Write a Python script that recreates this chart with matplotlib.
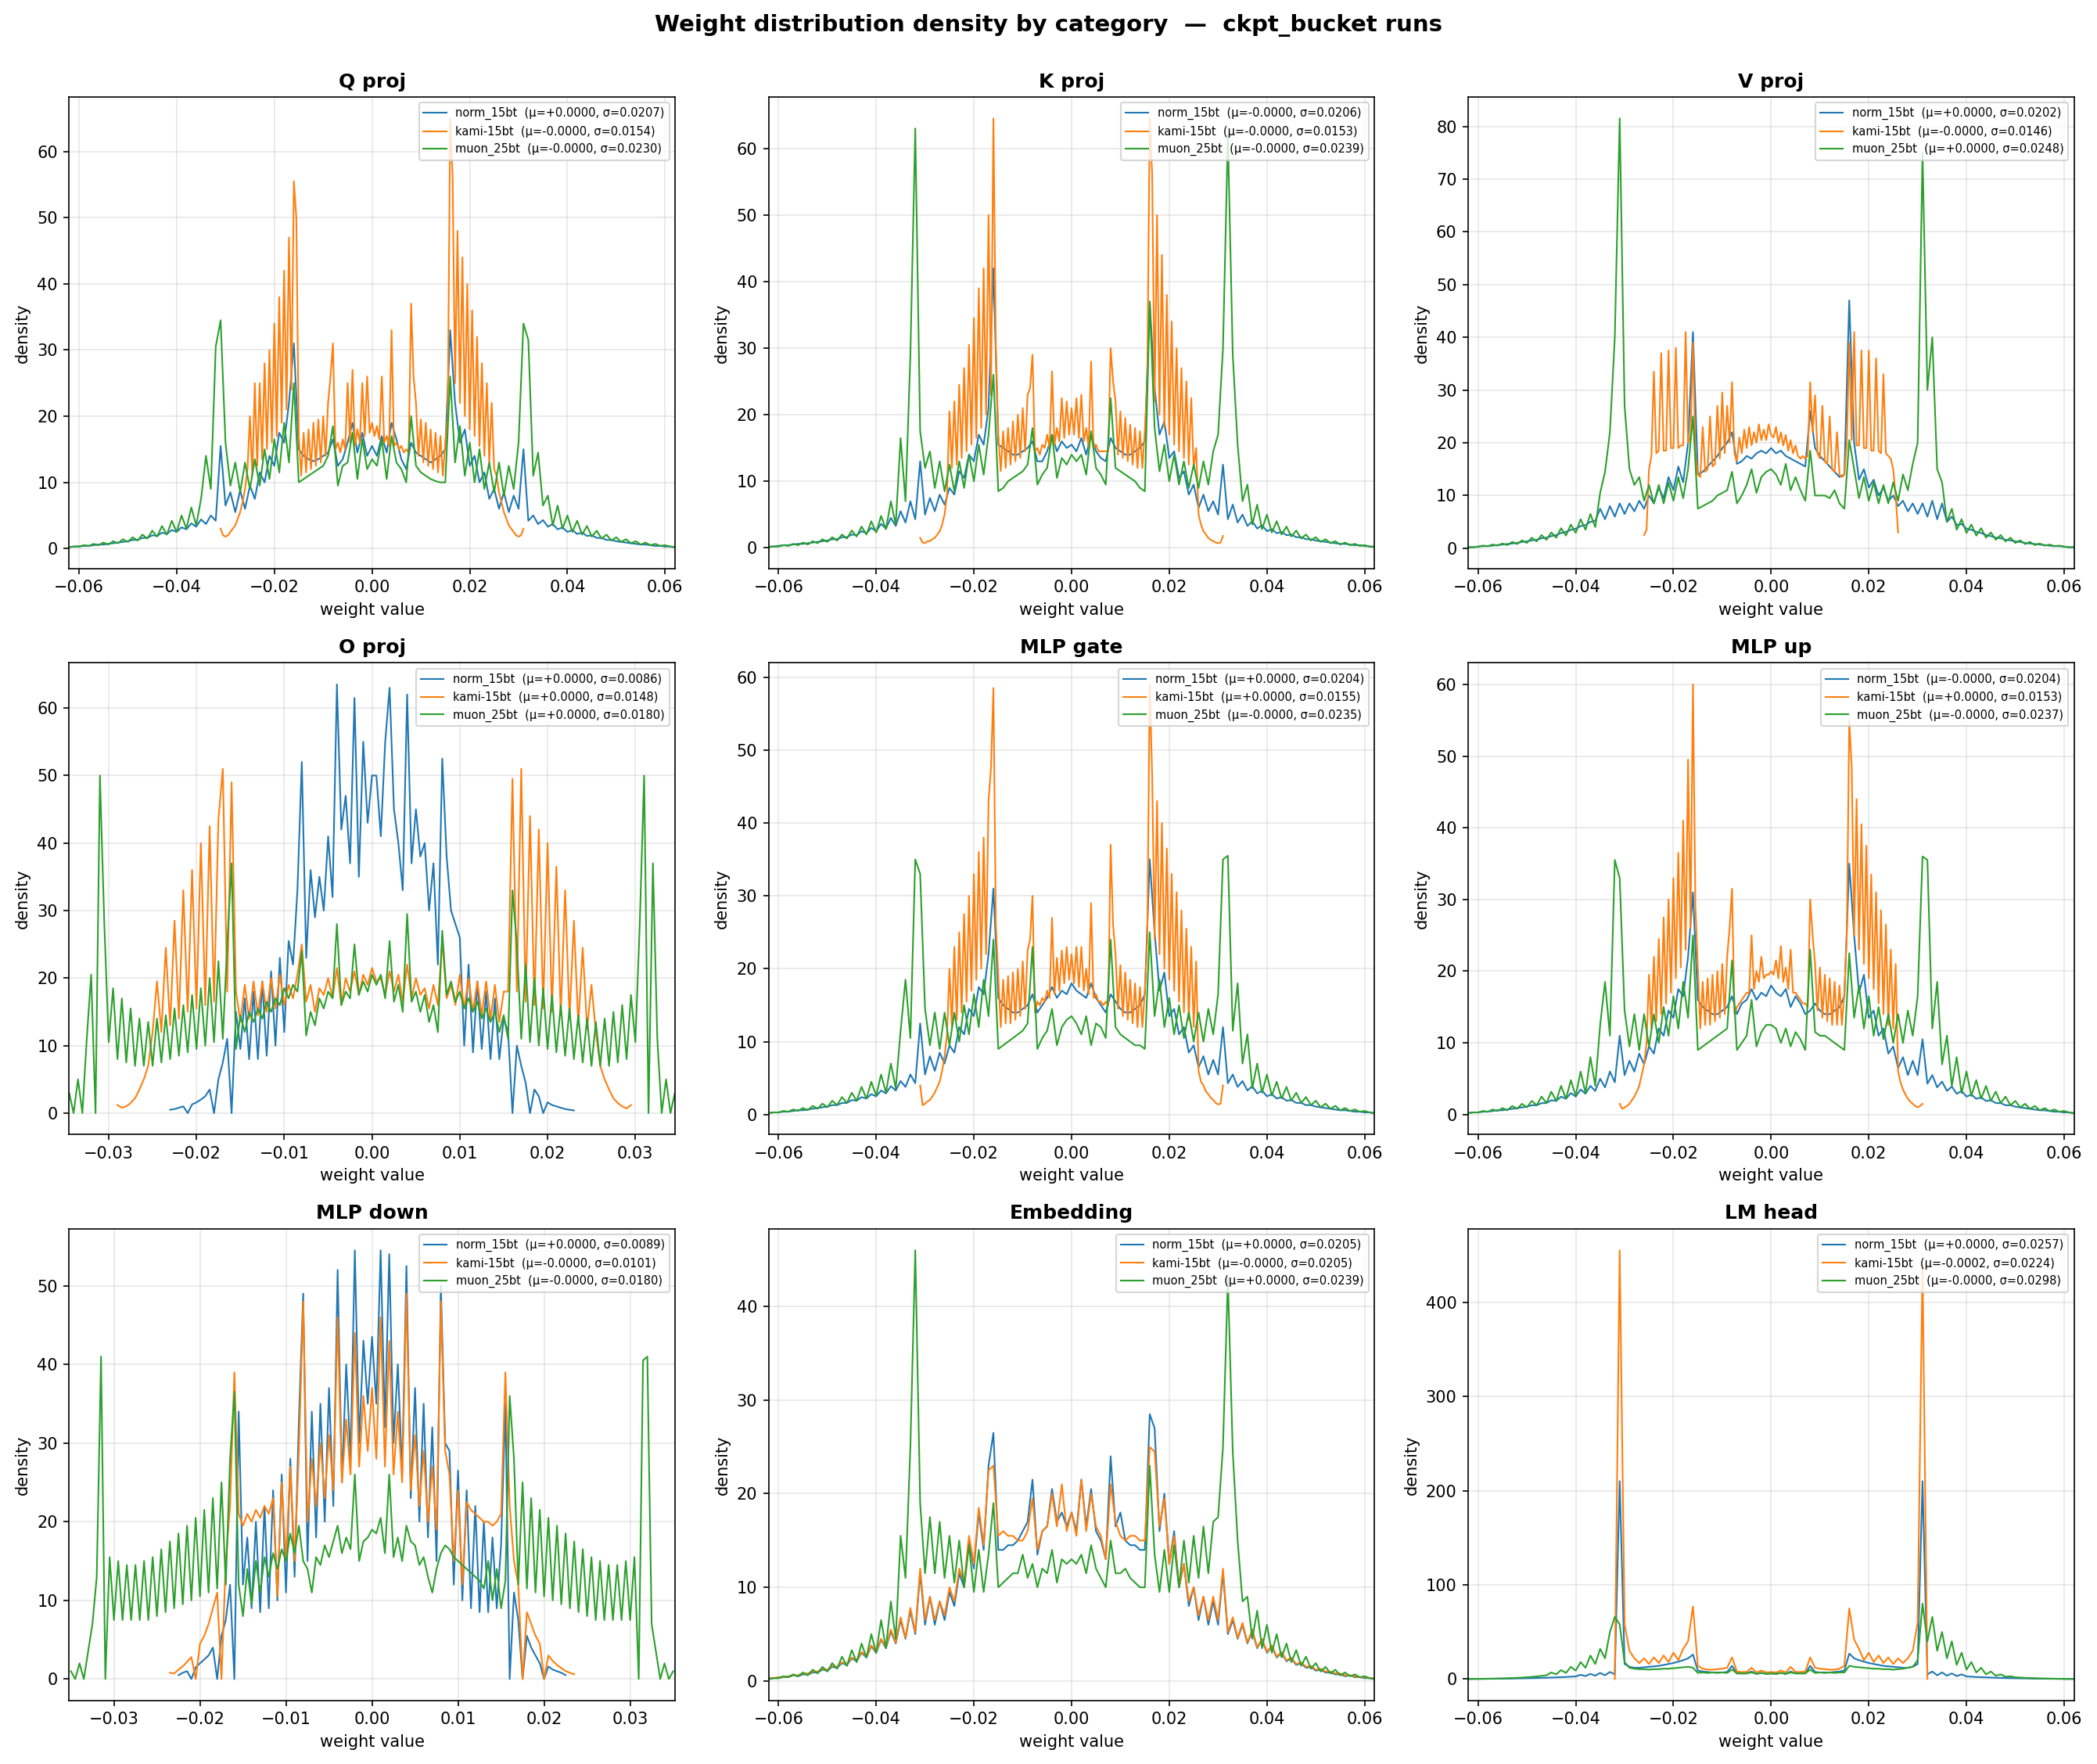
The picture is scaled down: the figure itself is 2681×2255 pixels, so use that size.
import numpy as np
import matplotlib
matplotlib.use("Agg")
import matplotlib.pyplot as plt

# runs compared in every panel
runs = ["norm_15bt", "kami-15bt", "muon_25bt"]
colors = ["tab:blue", "tab:orange", "tab:green"]

titles = ["Q proj", "K proj", "V proj", "O proj", "MLP gate", "MLP up",
          "MLP down", "Embedding", "LM head"]

# legend stats (mu, sigma) per panel, one pair per run
mus = [["+0.0000", "-0.0000", "-0.0000"], ["-0.0000", "-0.0000", "-0.0000"],
       ["+0.0000", "-0.0000", "+0.0000"], ["+0.0000", "+0.0000", "+0.0000"],
       ["+0.0000", "+0.0000", "-0.0000"], ["-0.0000", "+0.0000", "-0.0000"],
       ["+0.0000", "-0.0000", "-0.0000"], ["+0.0000", "-0.0000", "+0.0000"],
       ["+0.0000", "-0.0002", "-0.0000"]]
sigmas = [["0.0207", "0.0154", "0.0230"], ["0.0206", "0.0153", "0.0239"],
          ["0.0202", "0.0146", "0.0248"], ["0.0086", "0.0148", "0.0180"],
          ["0.0204", "0.0155", "0.0235"], ["0.0204", "0.0153", "0.0237"],
          ["0.0089", "0.0101", "0.0180"], ["0.0205", "0.0205", "0.0239"],
          ["0.0257", "0.0224", "0.0298"]]

# bin width of each curve (norm, kami, muon) and x range shown
steps = [[0.001, 0.0005, 0.001], [0.001, 0.0005, 0.001], [0.001, 0.0005, 0.001],
         [0.0005, 0.0005, 0.0005], [0.001, 0.0005, 0.001], [0.001, 0.0005, 0.001],
         [0.0005, 0.0005, 0.0005], [0.001, 0.001, 0.001], [0.001, 0.001, 0.001]]
xlims = [0.062, 0.062, 0.062, 0.0345, 0.062, 0.062, 0.0352, 0.062, 0.062]

# density values: "_l" runs from the outer edge in to 0,
# "_r" from the first bin right of 0 outwards
q_norm_l = [0.2, 0.3, 0.3, 0.4, 0.4, 0.5, 0.6, 0.6, 0.7, 0.8, 0.9, 1.0, 1.1, 1.3, 1.3, 1.6, 1.6, 2.0, 1.9, 2.4, 2.2,
            2.8, 2.5, 3.2, 2.9, 3.8, 3.3, 4.4, 3.7, 5.0, 4.2, 15.5, 6.5, 8.5, 5.5, 8.8, 6.0, 9.5, 7.5, 11.5, 10.0,
            14.0, 12.5, 17.5, 16.0, 22.0, 31.0, 15.0, 14.0, 13.5, 13.2, 13.5, 14.0, 14.5, 16.5, 12.5, 13.5, 16.0,
            19.0, 14.5, 17.5, 14.0, 15.5]
q_norm_r = [14.0, 17.0, 14.5, 19.0, 16.5, 13.5, 12.0, 16.0, 14.5, 14.0, 13.5, 13.0, 13.5, 14.0, 15.0, 33.0, 22.0,
            16.0, 18.0, 12.5, 14.0, 10.0, 11.5, 7.5, 9.0, 6.0, 8.5, 5.5, 8.0, 6.0, 15.0, 4.2, 5.0, 3.7, 4.3, 3.3, 3.7,
            2.9, 3.2, 2.5, 2.8, 2.2, 2.4, 1.9, 2.0, 1.6, 1.6, 1.3, 1.3, 1.1, 1.0, 0.9, 0.8, 0.7, 0.6, 0.6, 0.5, 0.4,
            0.4, 0.3, 0.3, 0.2]
q_kami_l = [3.0, 2.0, 1.8, 2.0, 2.5, 3.0, 3.5, 4.5, 5.5, 7.0, 9.0, 12.0, 20.0, 11.0, 25.0, 12.5, 25.0, 13.5, 28.0,
            15.0, 30.0, 16.0, 34.0, 17.0, 38.0, 19.0, 42.0, 21.0, 47.0, 24.0, 55.5, 50.0, 17.0, 11.0, 17.5, 11.5,
            18.0, 12.0, 19.0, 12.5, 19.5, 13.0, 20.0, 14.0, 22.0, 26.0, 31.0, 15.0, 16.0, 14.5, 16.5, 15.0, 25.0,
            16.0, 27.0, 15.5, 18.0, 16.0, 25.0, 17.0, 26.0, 17.5, 19.0]
q_kami_r = [17.0, 18.5, 16.5, 26.0, 16.0, 17.0, 15.5, 33.0, 15.5, 16.0, 15.0, 15.5, 14.5, 15.0, 14.5, 37.0, 26.0,
            22.0, 14.0, 19.5, 13.0, 19.0, 12.5, 18.0, 12.0, 17.5, 11.5, 17.0, 11.0, 16.0, 20.0, 65.0, 56.0, 25.0,
            48.0, 22.0, 44.0, 20.0, 40.0, 18.0, 36.0, 17.0, 32.0, 15.5, 28.0, 14.0, 25.0, 13.0, 22.0, 12.0, 11.0,
            8.5, 7.0, 5.5, 4.5, 3.5, 3.0, 2.5, 2.0, 1.8, 2.0, 3.0]
q_muon_l = [0.2, 0.3, 0.3, 0.5, 0.4, 0.7, 0.5, 0.9, 0.6, 1.1, 0.8, 1.4, 1.0, 1.7, 1.2, 2.1, 1.5, 2.7, 1.8, 3.4, 2.1,
            4.2, 2.5, 5.0, 3.0, 6.2, 3.5, 7.5, 14.0, 9.0, 30.5, 34.5, 16.0, 9.5, 13.0, 8.5, 13.0, 9.0, 13.5, 9.5,
            15.0, 10.5, 16.5, 11.5, 19.0, 13.0, 25.0, 10.0, 10.5, 11.0, 11.5, 12.0, 12.5, 14.0, 18.5, 9.5, 12.5,
            13.0, 17.5, 10.5, 16.5, 12.0, 13.5]
q_muon_r = [12.5, 16.5, 10.5, 17.0, 13.0, 12.0, 10.0, 20.0, 12.5, 11.5, 11.0, 10.5, 10.2, 10.0, 10.0, 26.0, 13.0,
            18.5, 11.0, 16.0, 10.0, 15.0, 9.0, 13.0, 8.5, 13.0, 8.0, 12.5, 9.0, 16.0, 34.0, 31.5, 11.0, 14.5, 6.5,
            8.0, 3.5, 6.5, 3.0, 5.0, 2.5, 4.2, 2.1, 3.4, 1.8, 2.7, 1.5, 2.1, 1.2, 1.7, 1.0, 1.4, 0.8, 1.1, 0.6, 0.9,
            0.5, 0.7, 0.4, 0.5, 0.3, 0.2]

k_norm_l = [0.2, 0.2, 0.3, 0.4, 0.4, 0.5, 0.6, 0.6, 0.7, 0.8, 0.9, 1.0, 1.1, 1.3, 1.3, 1.6, 1.6, 2.0, 1.9, 2.5, 2.2,
            3.0, 2.5, 3.6, 2.9, 4.5, 3.3, 5.5, 3.8, 7.0, 4.3, 13.0, 5.0, 7.5, 5.5, 8.0, 6.5, 9.0, 8.0, 11.5, 10.5,
            14.0, 13.0, 17.0, 15.5, 21.0, 42.0, 15.5, 15.0, 14.5, 14.0, 14.0, 14.5, 15.0, 16.0, 13.0, 13.0, 14.5,
            17.0, 14.5, 16.0, 15.0, 15.5]
k_norm_r = [14.5, 16.5, 14.0, 17.0, 14.5, 13.5, 13.0, 16.5, 15.0, 14.5, 14.0, 14.0, 14.5, 15.0, 16.0, 37.0, 24.0,
            17.0, 19.0, 13.5, 14.5, 10.5, 11.5, 8.0, 9.5, 6.0, 8.0, 5.5, 7.0, 5.0, 12.5, 4.3, 6.5, 3.8, 5.0, 3.3, 4.0,
            2.9, 3.4, 2.5, 2.8, 2.2, 2.4, 1.9, 2.0, 1.6, 1.6, 1.3, 1.3, 1.1, 1.0, 0.9, 0.8, 0.7, 0.6, 0.6, 0.5, 0.4,
            0.4, 0.3, 0.2, 0.2]
k_kami_l = [1.5, 0.8, 0.7, 1.0, 1.0, 1.3, 1.5, 2.0, 2.5, 3.5, 5.0, 8.0, 20.5, 12.0, 22.0, 12.5, 24.5, 13.5, 27.0,
            14.5, 30.5, 15.5, 34.5, 16.5, 39.0, 18.0, 42.0, 20.0, 50.0, 23.0, 64.5, 30.0, 17.0, 11.5, 17.5, 12.0,
            18.0, 12.5, 19.0, 13.0, 20.0, 13.5, 21.0, 14.5, 23.0, 24.0, 29.0, 14.5, 15.0, 14.0, 15.5, 15.0, 17.0,
            15.0, 26.5, 15.5, 18.0, 16.0, 22.5, 16.5, 22.0, 17.0, 21.0]
k_kami_r = [17.0, 22.5, 16.5, 23.0, 16.0, 18.0, 15.0, 28.0, 15.0, 15.5, 14.5, 14.5, 14.5, 14.5, 14.5, 30.0, 25.0,
            22.0, 14.0, 20.5, 13.5, 19.5, 13.0, 18.5, 12.5, 18.0, 12.0, 17.5, 12.0, 17.5, 25.0, 64.5, 56.0, 22.0,
            50.0, 20.0, 44.0, 18.0, 38.0, 17.0, 34.0, 15.5, 30.0, 14.5, 27.0, 13.5, 25.0, 12.5, 22.5, 12.0, 15.0,
            5.0, 3.5, 2.5, 2.0, 1.5, 1.2, 1.0, 0.8, 0.7, 0.8, 1.8]
k_muon_l = [0.1, 0.2, 0.2, 0.4, 0.3, 0.6, 0.4, 0.8, 0.5, 1.0, 0.7, 1.3, 0.9, 1.6, 1.1, 2.0, 1.4, 2.6, 1.7, 3.2, 2.0,
            4.0, 2.3, 4.8, 2.8, 7.0, 3.5, 16.5, 7.0, 29.0, 63.0, 17.5, 12.0, 14.5, 9.0, 13.0, 8.5, 12.5, 8.5, 13.0,
            9.0, 14.0, 10.0, 15.5, 11.0, 17.0, 26.0, 8.5, 9.0, 10.0, 10.5, 11.0, 11.5, 12.5, 18.0, 9.5, 11.0, 12.0,
            17.0, 10.5, 13.5, 12.5, 14.0]
k_muon_r = [13.0, 14.0, 11.0, 17.5, 12.0, 11.0, 9.5, 22.5, 12.0, 11.5, 11.0, 10.5, 10.0, 9.0, 8.5, 37.0, 18.0,
            11.5, 15.5, 10.0, 14.0, 9.5, 13.0, 9.0, 12.5, 9.0, 13.0, 9.5, 14.5, 17.0, 30.0, 62.0, 29.0, 15.5, 7.0,
            9.5, 3.5, 6.5, 2.8, 5.0, 2.3, 4.0, 2.0, 3.2, 1.7, 2.6, 1.4, 2.0, 1.1, 1.6, 0.9, 1.3, 0.7, 1.0, 0.5, 0.8,
            0.4, 0.6, 0.3, 0.4, 0.2, 0.1]

v_norm_l = [0.2, 0.2, 0.3, 0.4, 0.4, 0.5, 0.6, 0.7, 0.8, 0.9, 1.0, 1.2, 1.3, 1.5, 1.6, 1.9, 2.0, 2.3, 2.5, 2.9, 3.1,
            3.5, 3.7, 4.2, 4.4, 5.0, 5.2, 7.5, 5.5, 8.0, 6.0, 8.5, 6.5, 8.5, 7.0, 9.0, 7.5, 10.0, 8.5, 11.5, 9.5,
            13.5, 11.0, 15.5, 12.5, 20.0, 41.0, 14.0, 14.5, 15.5, 16.5, 17.5, 19.0, 20.0, 22.0, 16.0, 16.5, 17.5,
            17.0, 18.0, 18.5, 18.0, 19.0]
v_norm_r = [18.0, 18.5, 17.5, 17.0, 16.5, 16.0, 15.5, 26.0, 19.0, 17.5, 16.5, 15.5, 14.5, 13.5, 14.0, 47.0, 20.0,
            13.0, 15.0, 11.5, 13.0, 10.0, 11.5, 9.0, 10.0, 8.0, 9.0, 7.0, 8.5, 6.5, 8.5, 6.0, 9.0, 5.5, 8.5, 5.0, 6.0,
            4.4, 4.6, 3.7, 3.5, 3.1, 2.9, 2.5, 2.3, 2.0, 1.9, 1.6, 1.5, 1.3, 1.2, 1.0, 0.9, 0.8, 0.7, 0.6, 0.5, 0.4,
            0.4, 0.3, 0.2, 0.2]
v_kami_l = [2.5, 3.5, 15.0, 17.5, 33.5, 18.0, 18.5, 37.0, 18.5, 18.5, 37.5, 19.0, 19.0, 38.0, 19.0, 19.5, 19.5,
            41.0, 20.0, 21.0, 39.0, 18.0, 14.0, 13.5, 23.0, 14.5, 15.0, 25.0, 15.5, 16.0, 27.0, 17.0, 29.5, 18.0,
            27.0, 20.0, 31.5, 18.0, 16.5, 21.0, 18.0, 22.5, 19.0, 23.0, 19.5, 22.0, 20.0, 23.5, 20.5, 22.5, 20.5,
            23.5, 21.5]
v_kami_r = [21.0, 23.0, 20.0, 22.0, 19.5, 21.5, 18.5, 20.5, 18.0, 19.5, 17.5, 17.0, 17.5, 17.0, 17.5, 31.5, 22.0,
            29.0, 18.0, 17.0, 27.0, 16.5, 16.0, 25.0, 15.0, 14.5, 22.0, 14.0, 13.5, 14.0, 20.0, 39.0, 20.5, 41.0,
            19.5, 19.5, 37.5, 19.0, 19.0, 37.5, 18.5, 18.5, 36.0, 18.5, 18.0, 33.0, 18.0, 17.5, 17.0, 15.0, 10.0, 3.0]
v_muon_l = [0.2, 0.2, 0.3, 0.5, 0.4, 0.7, 0.5, 0.9, 0.6, 1.2, 0.8, 1.5, 1.0, 2.0, 1.3, 2.5, 1.6, 3.0, 2.0, 3.8, 2.4,
            4.5, 2.9, 5.5, 3.5, 6.5, 4.0, 10.5, 14.5, 22.0, 40.0, 81.5, 27.0, 15.0, 12.0, 13.5, 9.0, 12.0, 8.5,
            12.0, 8.5, 12.5, 9.0, 13.5, 9.5, 15.0, 25.0, 7.5, 8.0, 8.5, 9.0, 10.0, 10.5, 11.0, 14.5, 8.5, 10.0,
            12.0, 15.0, 10.5, 13.5, 14.5, 15.0]
v_muon_r = [14.0, 12.0, 16.0, 11.0, 13.5, 11.0, 9.0, 18.5, 10.0, 10.0, 10.0, 9.5, 11.0, 8.5, 7.5, 20.5, 15.0, 9.5,
            13.5, 9.0, 12.5, 8.5, 12.0, 8.5, 12.5, 9.0, 14.0, 11.0, 16.0, 20.0, 75.0, 30.0, 40.0, 15.0, 12.5, 5.0,
            7.5, 3.5, 5.5, 2.9, 4.5, 2.4, 3.8, 2.0, 3.0, 1.6, 2.5, 1.3, 2.0, 1.0, 1.5, 0.8, 1.2, 0.6, 0.9, 0.5, 0.7,
            0.4, 0.5, 0.3, 0.2, 0.2]

o_norm_l = [0.5, 0.6, 0.8, 1.0, 0.0, 1.3, 1.6, 2.0, 2.5, 3.5, 0.0, 5.0, 7.5, 11.0, 0.0, 15.0, 9.5, 17.0, 8.0, 18.0,
            8.0, 19.5, 8.5, 21.0, 10.0, 23.0, 12.0, 25.5, 22.0, 33.0, 52.0, 23.0, 36.0, 29.0, 35.0, 30.0, 41.0,
            32.0, 63.5, 42.0, 47.0, 37.0, 61.5, 35.0, 55.0, 43.0, 50.0]
o_norm_r = [50.0, 41.0, 55.0, 63.0, 45.0, 40.0, 33.0, 62.0, 37.0, 45.0, 38.0, 40.0, 30.0, 37.0, 22.0, 52.5, 38.0,
            30.0, 28.0, 26.0, 10.0, 22.0, 9.0, 19.5, 9.5, 18.0, 8.0, 17.0, 8.0, 14.0, 12.0, 0.0, 10.0, 7.0, 4.5, 0.0,
            3.5, 2.5, 0.0, 1.6, 1.2, 1.0, 0.8, 0.6, 0.5, 0.4]
o_kami_l = [1.2, 0.8, 1.0, 1.5, 2.2, 3.5, 5.0, 7.0, 12.0, 19.5, 12.0, 24.5, 13.0, 28.5, 14.0, 33.0, 15.0, 36.0,
            15.5, 40.0, 16.0, 42.5, 16.5, 43.5, 51.0, 18.0, 49.0, 18.0, 13.5, 19.0, 14.0, 19.5, 14.5, 19.5, 15.0,
            20.0, 15.5, 20.5, 16.0, 19.0, 17.0, 20.5, 25.0, 16.5, 19.0, 15.0, 18.5, 17.5, 20.0, 17.0, 21.5, 16.0,
            20.0, 18.0, 21.0, 17.5, 20.5, 19.0, 21.5]
o_kami_r = [19.5, 20.0, 17.5, 21.0, 18.0, 20.5, 16.5, 22.0, 17.0, 20.0, 17.5, 18.5, 15.5, 19.0, 16.0, 25.5, 17.0,
            19.0, 16.0, 20.5, 15.5, 20.0, 15.0, 19.5, 14.5, 19.5, 14.0, 19.0, 13.5, 18.0, 18.0, 49.5, 18.0, 51.0,
            16.5, 44.0, 16.0, 42.0, 15.5, 40.0, 15.0, 36.5, 14.5, 33.0, 14.0, 28.5, 13.0, 24.5, 12.5, 19.0, 12.0,
            7.0, 5.0, 3.5, 2.2, 1.5, 1.0, 0.7, 1.2]
o_muon_l = [1.5, 3.0, 0.0, 5.0, 0.0, 11.0, 20.5, 0.0, 50.0, 28.0, 10.5, 18.5, 8.0, 17.0, 7.5, 15.5, 7.0, 14.0, 7.0,
            13.5, 7.0, 14.0, 7.5, 14.5, 8.0, 15.5, 8.5, 16.0, 9.0, 17.5, 9.5, 18.5, 10.0, 20.0, 10.5, 22.5, 11.0,
            25.0, 37.0, 9.5, 14.5, 12.0, 15.0, 13.5, 15.5, 14.0, 16.5, 15.0, 17.0, 16.0, 18.5, 17.0, 19.0, 18.0,
            24.0, 11.5, 15.0, 13.0, 17.0, 15.5, 18.0, 17.0, 28.0, 16.0, 18.0, 17.0, 25.0, 17.5, 19.5, 18.0, 20.5]
o_muon_r = [19.0, 20.5, 17.0, 25.5, 16.5, 19.0, 15.0, 29.5, 16.5, 18.0, 15.0, 17.5, 13.5, 16.0, 12.0, 27.0, 17.5,
            19.5, 16.5, 18.0, 15.5, 17.0, 15.0, 16.5, 14.0, 15.5, 13.5, 15.0, 12.0, 14.5, 11.0, 33.0, 25.0, 11.0,
            22.0, 10.5, 20.0, 10.0, 18.5, 9.5, 17.5, 9.0, 16.0, 8.5, 15.5, 8.0, 14.5, 7.5, 14.0, 7.0, 13.5, 7.0,
            14.0, 7.0, 15.0, 7.5, 16.0, 8.0, 17.5, 10.5, 28.0, 50.0, 0.0, 37.0, 11.0, 0.0, 5.0, 0.0, 3.0, 1.5]

g_norm_l = [0.2, 0.3, 0.3, 0.4, 0.4, 0.5, 0.6, 0.6, 0.7, 0.8, 0.9, 1.0, 1.1, 1.3, 1.3, 1.6, 1.6, 2.0, 1.9, 2.4, 2.2,
            2.8, 2.5, 3.3, 2.9, 3.9, 3.3, 4.6, 3.8, 5.5, 4.3, 12.5, 5.5, 8.0, 6.0, 8.5, 7.0, 9.5, 8.5, 12.0, 11.0,
            14.5, 13.5, 17.5, 16.5, 22.0, 31.0, 16.0, 15.0, 14.5, 14.0, 14.0, 14.5, 15.0, 16.5, 14.0, 15.0, 16.0,
            17.5, 16.0, 17.0, 16.5, 18.0]
g_norm_r = [17.0, 16.5, 16.0, 18.0, 16.0, 15.0, 14.0, 16.5, 15.5, 14.5, 14.0, 14.0, 14.5, 15.0, 16.5, 35.0, 25.0,
            17.0, 19.5, 13.5, 14.5, 11.0, 12.0, 8.5, 9.5, 6.5, 8.0, 5.5, 7.5, 5.5, 12.0, 4.3, 5.5, 3.8, 4.6, 3.3, 3.9,
            2.9, 3.3, 2.5, 2.8, 2.2, 2.4, 1.9, 2.0, 1.6, 1.6, 1.3, 1.3, 1.1, 1.0, 0.9, 0.8, 0.7, 0.6, 0.6, 0.5, 0.4,
            0.4, 0.3, 0.3, 0.2]
g_kami_l = [4.0, 1.3, 1.5, 1.8, 2.0, 2.5, 3.0, 3.8, 4.5, 6.0, 8.0, 11.0, 20.0, 12.0, 23.0, 13.0, 25.0, 14.0, 27.5,
            15.5, 30.0, 17.0, 33.0, 18.5, 36.0, 20.0, 38.0, 22.0, 43.0, 47.5, 58.5, 26.0, 19.0, 12.0, 18.5, 12.5,
            19.0, 12.5, 19.5, 13.0, 20.0, 13.5, 21.0, 14.5, 22.5, 24.0, 30.0, 14.0, 15.5, 15.0, 16.0, 15.5, 17.0,
            16.0, 27.0, 16.5, 21.5, 17.0, 22.5, 18.0, 23.0, 18.5, 22.0]
g_kami_r = [18.0, 23.0, 17.5, 23.0, 17.0, 20.0, 16.5, 29.0, 16.0, 16.5, 15.5, 15.5, 15.0, 15.5, 15.0, 37.0, 26.0,
            22.0, 14.5, 20.5, 13.5, 19.5, 13.0, 18.5, 12.5, 18.0, 12.0, 17.5, 12.0, 17.0, 24.0, 59.0, 46.5, 24.0,
            43.0, 22.0, 40.0, 20.0, 36.5, 18.5, 33.0, 17.0, 30.5, 15.5, 28.0, 14.0, 25.5, 13.0, 23.0, 12.0, 21.0,
            6.0, 4.5, 4.0, 3.2, 2.8, 2.3, 2.0, 1.6, 1.4, 1.5, 4.0]
g_muon_l = [0.2, 0.3, 0.3, 0.5, 0.4, 0.7, 0.5, 0.9, 0.6, 1.2, 0.8, 1.5, 1.0, 1.9, 1.3, 2.4, 1.6, 3.0, 1.9, 3.8, 2.2,
            4.5, 2.6, 5.5, 3.0, 7.0, 3.6, 11.5, 18.5, 10.5, 35.0, 33.0, 14.5, 9.5, 14.0, 9.0, 14.0, 9.5, 14.0, 10.0,
            15.0, 11.0, 16.5, 12.0, 18.5, 13.5, 24.0, 9.0, 9.5, 10.0, 10.5, 11.0, 11.5, 12.5, 23.0, 9.0, 10.5, 11.5,
            14.5, 9.5, 12.0, 13.0, 13.5]
g_muon_r = [12.5, 11.0, 13.5, 9.5, 12.5, 12.0, 10.5, 24.0, 12.0, 11.0, 10.5, 10.0, 9.5, 9.5, 9.0, 25.0, 13.5, 18.5,
            12.0, 16.0, 11.0, 15.0, 10.5, 14.0, 10.0, 14.0, 10.0, 14.5, 11.0, 16.5, 35.0, 35.5, 11.5, 18.0, 7.0, 11.0,
            3.6, 7.0, 3.0, 5.5, 2.6, 4.5, 2.2, 3.8, 1.9, 3.0, 1.6, 2.4, 1.3, 1.9, 1.0, 1.5, 0.8, 1.2, 0.6, 0.9, 0.5,
            0.7, 0.4, 0.5, 0.3, 0.2]

u_norm_l = [0.2, 0.3, 0.3, 0.4, 0.4, 0.5, 0.6, 0.6, 0.7, 0.8, 0.9, 1.0, 1.1, 1.3, 1.3, 1.6, 1.6, 2.0, 1.9, 2.5, 2.2,
            3.0, 2.5, 3.5, 2.9, 4.0, 3.3, 5.0, 3.8, 6.0, 4.5, 11.0, 5.5, 7.5, 6.0, 8.5, 7.0, 9.5, 8.5, 12.0, 11.0,
            14.5, 13.5, 17.5, 16.5, 22.0, 31.0, 16.0, 15.0, 14.5, 14.0, 14.0, 14.5, 15.0, 16.5, 14.0, 15.5, 16.0,
            17.5, 16.0, 17.0, 16.5, 18.0]
u_norm_r = [17.0, 16.5, 17.5, 15.0, 16.5, 15.5, 14.0, 14.5, 15.5, 14.5, 14.0, 14.0, 14.5, 15.0, 16.5, 35.0, 25.0,
            17.0, 19.5, 13.5, 14.5, 11.0, 12.0, 8.5, 9.5, 6.5, 8.0, 5.5, 7.5, 5.5, 10.5, 4.3, 5.5, 3.8, 4.6, 3.3, 3.9,
            2.9, 3.3, 2.5, 2.8, 2.2, 2.4, 1.9, 2.0, 1.6, 1.6, 1.3, 1.3, 1.1, 1.0, 0.9, 0.8, 0.7, 0.6, 0.6, 0.5, 0.4,
            0.4, 0.3, 0.3, 0.2]
u_kami_l = [1.5, 0.8, 1.0, 1.2, 1.5, 2.0, 2.5, 3.2, 4.0, 5.5, 7.0, 10.0, 19.5, 12.0, 22.0, 13.0, 24.5, 14.0, 27.5,
            15.5, 30.0, 17.0, 33.0, 19.0, 36.5, 20.5, 41.0, 23.0, 49.5, 26.0, 60.0, 29.0, 20.5, 12.0, 18.5, 12.5,
            19.0, 12.5, 19.5, 13.0, 20.0, 13.5, 21.0, 14.0, 22.0, 26.0, 31.5, 14.0, 15.0, 15.5, 16.0, 16.5, 17.0,
            17.0, 25.0, 17.5, 20.0, 18.5, 22.0, 19.0, 19.5, 19.5, 20.0]
u_kami_r = [19.5, 21.5, 19.0, 23.5, 18.5, 20.5, 17.5, 23.0, 17.0, 17.0, 16.5, 16.0, 15.5, 15.5, 15.0, 30.0, 25.0,
            21.0, 14.5, 20.5, 13.5, 19.5, 13.0, 19.0, 12.5, 18.5, 12.5, 18.0, 12.5, 17.0, 25.0, 55.0, 48.5, 25.0,
            44.0, 23.0, 40.5, 21.0, 37.5, 19.0, 33.5, 17.5, 31.0, 15.5, 28.5, 14.0, 26.5, 12.5, 23.0, 12.0, 21.0,
            6.0, 4.5, 3.5, 2.8, 2.2, 1.8, 1.5, 1.2, 1.0, 1.2, 1.5]
u_muon_l = [0.2, 0.3, 0.3, 0.5, 0.4, 0.7, 0.5, 0.9, 0.6, 1.2, 0.8, 1.5, 1.0, 1.9, 1.3, 2.5, 1.6, 3.2, 1.9, 4.0, 2.2,
            4.8, 2.6, 6.0, 3.0, 8.0, 4.0, 12.5, 18.5, 11.0, 35.5, 33.0, 14.5, 9.5, 14.0, 9.0, 14.0, 9.5, 14.0, 10.0,
            15.0, 11.0, 16.5, 12.0, 18.5, 13.5, 25.0, 9.0, 9.5, 10.0, 10.5, 11.0, 11.5, 12.0, 21.5, 9.0, 10.0, 11.0,
            16.0, 9.5, 11.5, 12.5, 12.5]
u_muon_r = [12.0, 10.0, 12.0, 9.5, 11.5, 10.5, 9.0, 23.0, 11.5, 11.0, 11.0, 10.5, 10.0, 9.5, 9.0, 22.5, 13.5, 18.0,
            12.0, 16.5, 11.0, 15.0, 10.5, 14.0, 10.0, 14.0, 10.0, 14.5, 11.0, 16.5, 36.0, 35.5, 12.0, 18.5, 7.0, 11.0,
            4.0, 8.0, 3.0, 6.0, 2.6, 4.8, 2.2, 4.0, 1.9, 3.2, 1.6, 2.5, 1.3, 1.9, 1.0, 1.5, 0.8, 1.2, 0.6, 0.9, 0.5,
            0.7, 0.4, 0.5, 0.3, 0.2]

d_norm_l = [0.5, 0.8, 1.0, 0.0, 1.5, 2.0, 2.5, 3.0, 4.0, 0.0, 5.5, 7.5, 12.0, 0.0, 34.0, 12.0, 18.0, 9.0, 20.0, 8.5,
            22.0, 9.0, 24.0, 10.0, 26.0, 11.0, 28.0, 13.0, 33.0, 49.0, 15.0, 34.0, 18.0, 35.0, 20.0, 37.0, 22.0,
            52.0, 25.0, 40.0, 28.0, 54.5, 30.0, 43.0, 35.0, 43.5]
d_norm_r = [35.0, 54.5, 32.0, 54.0, 30.0, 40.0, 26.0, 52.5, 23.0, 37.0, 20.0, 35.0, 18.0, 32.0, 15.0, 50.0, 30.0,
            29.0, 12.0, 26.5, 10.0, 24.0, 9.0, 22.0, 8.5, 20.0, 8.5, 18.0, 9.0, 17.0, 35.0, 0.0, 11.0, 7.5, 0.0, 5.5,
            4.0, 3.0, 2.0, 0.0, 1.6, 1.2, 1.0, 0.8, 0.5]
d_kami_l = [0.8, 0.7, 1.2, 1.6, 2.2, 2.8, 0.0, 4.5, 5.5, 7.0, 9.0, 11.0, 0.0, 15.0, 22.0, 39.0, 21.0, 19.5, 21.0,
            20.0, 21.5, 20.5, 22.0, 21.0, 23.0, 10.5, 25.0, 15.0, 27.0, 15.0, 29.0, 48.0, 20.0, 28.0, 22.0, 30.0,
            23.0, 31.0, 24.0, 46.0, 25.0, 33.0, 26.0, 44.0, 27.0, 36.0, 29.0, 37.0]
d_kami_r = [28.0, 46.0, 27.0, 43.0, 26.0, 34.0, 25.0, 49.0, 24.0, 31.0, 22.0, 29.0, 20.0, 27.0, 19.0, 48.0, 29.0,
            26.0, 15.0, 24.0, 12.0, 22.5, 21.5, 21.0, 20.5, 20.0, 20.0, 19.5, 20.0, 21.0, 39.0, 22.0, 15.0, 12.0,
            0.0, 8.5, 7.0, 5.5, 4.5, 0.0, 3.0, 2.3, 1.8, 1.4, 1.0, 0.8, 0.6]
d_muon_l = [1.0, 0.0, 2.0, 0.0, 3.5, 7.0, 13.0, 41.0, 0.0, 15.5, 7.5, 15.0, 7.5, 14.5, 7.5, 14.5, 7.5, 15.0, 7.5,
            15.5, 8.0, 16.5, 8.5, 17.5, 9.0, 18.5, 9.5, 19.5, 10.0, 20.5, 10.5, 21.5, 11.0, 23.0, 11.5, 25.0, 12.0,
            28.0, 36.5, 12.0, 8.0, 14.0, 9.5, 15.0, 11.0, 15.5, 13.0, 16.0, 14.0, 16.5, 15.0, 18.5, 16.0, 19.5,
            15.0, 14.0, 11.0, 15.5, 14.5, 17.0, 15.5, 17.5, 19.5, 16.0, 18.0, 16.5, 26.0, 15.0, 17.5, 18.0, 19.0]
d_muon_r = [18.5, 20.5, 16.0, 26.0, 15.5, 18.0, 15.0, 19.5, 17.5, 17.0, 14.5, 15.5, 13.0, 11.0, 14.0, 16.0, 17.0,
            16.5, 15.5, 15.0, 14.5, 14.0, 13.5, 13.0, 12.5, 11.5, 15.0, 10.0, 14.0, 9.0, 12.5, 36.0, 28.0, 12.0,
            25.0, 11.5, 23.0, 11.0, 21.5, 10.5, 20.5, 10.0, 19.5, 9.5, 18.5, 9.0, 17.5, 8.5, 16.5, 8.0, 15.5, 7.5,
            15.0, 7.5, 14.5, 7.5, 14.5, 7.5, 15.0, 7.5, 15.5, 0.0, 40.5, 41.0, 7.0, 3.5, 0.0, 2.0, 0.0, 1.0]

e_norm_l = [0.2, 0.3, 0.3, 0.4, 0.4, 0.6, 0.5, 0.7, 0.7, 0.9, 0.9, 1.2, 1.1, 1.5, 1.4, 1.9, 1.7, 2.4, 2.1, 3.0, 2.5,
            3.7, 3.0, 4.4, 3.5, 5.3, 4.0, 6.5, 4.5, 7.5, 5.0, 11.5, 6.0, 9.0, 6.0, 8.5, 6.5, 9.5, 8.0, 11.5, 10.0,
            15.0, 12.0, 18.0, 14.0, 23.0, 26.5, 14.0, 14.0, 14.5, 14.5, 15.0, 16.0, 17.0, 21.5, 13.5, 16.0, 16.5,
            20.5, 17.0, 18.0, 16.5, 18.0]
e_norm_r = [16.0, 21.5, 16.5, 20.5, 16.0, 15.0, 13.0, 24.0, 16.5, 18.0, 15.0, 14.5, 14.5, 14.0, 14.0, 28.5, 27.0,
            16.0, 20.0, 12.5, 16.0, 10.0, 12.5, 8.0, 10.0, 6.5, 9.0, 6.0, 8.5, 6.0, 11.5, 5.0, 6.5, 4.5, 6.0, 4.0, 5.3,
            3.5, 4.4, 3.0, 3.7, 2.5, 3.0, 2.1, 2.4, 1.7, 1.9, 1.4, 1.5, 1.1, 1.2, 0.9, 0.9, 0.7, 0.7, 0.5, 0.6, 0.4,
            0.4, 0.3, 0.3, 0.2]
e_kami_l = [0.3, 0.3, 0.4, 0.4, 0.5, 0.6, 0.6, 0.8, 0.8, 1.0, 1.0, 1.3, 1.2, 1.6, 1.5, 2.0, 1.8, 2.5, 2.2, 3.1, 2.6,
            3.8, 3.1, 4.5, 3.6, 5.5, 4.1, 6.8, 4.6, 7.8, 5.2, 12.0, 6.5, 9.0, 6.5, 8.5, 7.0, 10.0, 8.5, 12.0, 10.5,
            15.5, 12.5, 18.5, 14.5, 22.5, 23.0, 15.5, 16.0, 15.5, 15.5, 15.0, 15.0, 16.0, 19.5, 14.0, 16.0, 16.5,
            20.0, 16.5, 21.0, 16.0, 18.0]
e_kami_r = [15.5, 21.5, 16.0, 20.0, 16.5, 15.5, 13.0, 21.0, 17.0, 15.5, 15.0, 15.5, 15.5, 15.0, 15.0, 25.0, 24.5,
            16.5, 19.5, 12.5, 15.5, 10.0, 12.5, 8.5, 10.0, 7.0, 9.0, 6.5, 9.0, 6.5, 12.0, 5.2, 6.8, 4.6, 6.2, 4.1, 5.5,
            3.6, 4.5, 3.1, 3.8, 2.6, 3.1, 2.2, 2.5, 1.8, 2.0, 1.5, 1.6, 1.2, 1.3, 1.0, 1.0, 0.8, 0.8, 0.6, 0.6, 0.5,
            0.4, 0.4, 0.3, 0.3]
e_muon_l = [0.2, 0.3, 0.3, 0.5, 0.4, 0.7, 0.5, 0.9, 0.6, 1.2, 0.8, 1.5, 1.0, 1.9, 1.3, 2.6, 1.6, 3.3, 2.0, 4.0, 2.5,
            5.0, 3.0, 6.5, 3.5, 8.5, 4.5, 15.5, 11.0, 25.0, 46.0, 19.0, 11.5, 17.5, 11.5, 17.0, 11.0, 15.5, 10.5,
            15.0, 10.0, 14.5, 9.5, 14.0, 9.5, 13.5, 19.0, 10.0, 10.5, 11.0, 11.5, 11.5, 13.5, 11.0, 12.5, 10.0,
            12.0, 11.5, 14.0, 10.5, 13.0, 12.5, 13.0]
e_muon_r = [12.5, 13.5, 11.5, 14.5, 12.0, 11.0, 10.0, 15.0, 11.5, 11.5, 12.0, 11.0, 10.5, 10.0, 10.0, 23.0, 13.5,
            9.5, 14.0, 9.5, 14.5, 10.0, 15.0, 10.5, 15.5, 11.0, 16.5, 11.5, 17.0, 17.5, 25.0, 43.0, 24.5, 15.0, 8.5,
            9.0, 4.5, 7.5, 3.5, 6.0, 3.0, 5.0, 2.5, 4.0, 2.0, 3.3, 1.6, 2.6, 1.3, 1.9, 1.0, 1.5, 0.8, 1.2, 0.6, 0.9,
            0.5, 0.7, 0.4, 0.5, 0.3, 0.2]

h_norm_l = [0.1, 0.1, 0.2, 0.2, 0.3, 0.3, 0.4, 0.4, 0.5, 0.6, 0.7, 0.8, 0.9, 1.0, 1.1, 1.3, 1.4, 1.6, 1.8, 2.0, 2.2,
            2.5, 2.8, 4.5, 3.2, 5.5, 3.6, 6.5, 4.0, 7.5, 5.0, 210.0, 16.0, 13.0, 12.0, 12.0, 12.5, 13.0, 13.5, 14.0,
            15.0, 16.0, 17.0, 18.5, 20.0, 22.0, 26.0, 9.0, 8.0, 7.5, 7.0, 7.0, 7.0, 7.5, 14.0, 6.0, 6.0, 6.0, 8.0,
            5.5, 6.5, 5.5, 6.0]
h_norm_r = [5.5, 6.5, 5.5, 8.0, 6.0, 6.0, 6.0, 14.0, 7.5, 7.0, 7.0, 7.0, 7.5, 8.0, 9.0, 27.0, 22.0, 20.0, 18.5,
            17.0, 16.0, 15.0, 14.0, 13.5, 13.0, 12.5, 12.0, 12.0, 13.0, 16.0, 210.0, 5.0, 8.0, 4.0, 7.0, 3.6, 6.0,
            3.2, 5.0, 2.8, 2.5, 2.2, 2.0, 1.8, 1.6, 1.4, 1.3, 1.1, 1.0, 0.9, 0.8, 0.7, 0.6, 0.5, 0.4, 0.4, 0.3, 0.3,
            0.2, 0.2, 0.1, 0.1]
h_kami_l = [0.0, 455.0, 58.0, 30.0, 22.0, 17.0, 22.0, 16.0, 23.0, 17.0, 25.0, 18.0, 28.0, 20.0, 32.0, 40.0, 77.0,
            14.0, 11.0, 10.0, 10.0, 10.5, 11.0, 12.0, 23.0, 8.0, 7.5, 7.5, 12.0, 7.0, 9.0, 7.0, 7.5]
h_kami_r = [7.0, 9.0, 7.0, 13.0, 7.5, 7.5, 8.0, 23.0, 12.0, 11.0, 10.5, 10.0, 10.0, 11.0, 14.0, 75.0, 42.0, 32.0,
            20.0, 28.0, 18.0, 25.0, 17.0, 23.0, 16.0, 22.0, 17.0, 22.0, 30.0, 60.0, 440.0, 0.0]
h_muon_l = [0.1, 0.2, 0.2, 0.3, 0.4, 0.5, 0.6, 0.7, 0.9, 1.1, 1.3, 1.6, 1.9, 2.3, 2.8, 3.4, 4.0, 7.0, 5.0, 9.5, 6.5,
            13.0, 9.0, 18.0, 12.0, 25.0, 16.0, 32.0, 22.0, 50.0, 66.0, 58.0, 18.0, 12.0, 11.0, 10.5, 10.5, 10.0,
            10.5, 10.5, 11.0, 11.0, 11.5, 12.0, 12.5, 13.0, 12.0, 6.5, 7.0, 6.5, 7.0, 6.5, 7.0, 6.5, 10.0, 6.0, 6.0,
            6.0, 7.0, 5.5, 6.5, 5.5, 6.0]
h_muon_r = [5.5, 6.5, 5.5, 7.0, 6.0, 6.0, 6.0, 10.0, 6.5, 7.0, 6.5, 7.0, 6.5, 7.0, 7.0, 14.0, 13.0, 12.5, 12.0,
            11.5, 11.0, 11.0, 10.5, 10.5, 10.0, 10.5, 11.0, 12.0, 13.0, 20.0, 80.0, 40.0, 66.0, 30.0, 50.0, 22.0,
            40.0, 15.0, 28.0, 10.0, 18.0, 7.0, 12.0, 5.0, 8.0, 3.5, 5.0, 2.5, 3.0, 1.9, 1.6, 1.3, 1.1, 0.9, 0.7, 0.6,
            0.5, 0.4, 0.3, 0.2, 0.2, 0.1]

panels = [
    [(q_norm_l, q_norm_r), (q_kami_l, q_kami_r), (q_muon_l, q_muon_r)],
    [(k_norm_l, k_norm_r), (k_kami_l, k_kami_r), (k_muon_l, k_muon_r)],
    [(v_norm_l, v_norm_r), (v_kami_l, v_kami_r), (v_muon_l, v_muon_r)],
    [(o_norm_l, o_norm_r), (o_kami_l, o_kami_r), (o_muon_l, o_muon_r)],
    [(g_norm_l, g_norm_r), (g_kami_l, g_kami_r), (g_muon_l, g_muon_r)],
    [(u_norm_l, u_norm_r), (u_kami_l, u_kami_r), (u_muon_l, u_muon_r)],
    [(d_norm_l, d_norm_r), (d_kami_l, d_kami_r), (d_muon_l, d_muon_r)],
    [(e_norm_l, e_norm_r), (e_kami_l, e_kami_r), (e_muon_l, e_muon_r)],
    [(h_norm_l, h_norm_r), (h_kami_l, h_kami_r), (h_muon_l, h_muon_r)],
]


def curve(left, right, step):
    # bin centres counted outward from zero
    y = np.array(left + right, dtype=float)
    x = step * (np.arange(len(y)) - (len(left) - 1))
    return x, y


fig, axes = plt.subplots(3, 3, figsize=(2681 / 150, 2255 / 150), dpi=150)

for i, ax in enumerate(axes.flat):
    for j, (left, right) in enumerate(panels[i]):
        x, y = curve(left, right, steps[i][j])
        label = f"{runs[j]}  (\u03bc={mus[i][j]}, \u03c3={sigmas[i][j]})"
        ax.plot(x, y, color=colors[j], lw=1.0, label=label)
    ax.set_xlim(-xlims[i], xlims[i])
    ax.set_title(titles[i], fontsize=12, fontweight="bold")
    ax.set_xlabel("weight value")
    ax.set_ylabel("density")
    ax.grid(True, alpha=0.3)
    ax.legend(loc="upper right", fontsize=7)

fig.suptitle("Weight distribution density by category  \u2014  ckpt_bucket runs",
             fontsize=14, fontweight="bold", y=0.992)
fig.subplots_adjust(left=0.033, right=0.989, top=0.945, bottom=0.036,
                    wspace=0.155, hspace=0.2)
fig.savefig("out.png", dpi=150)
